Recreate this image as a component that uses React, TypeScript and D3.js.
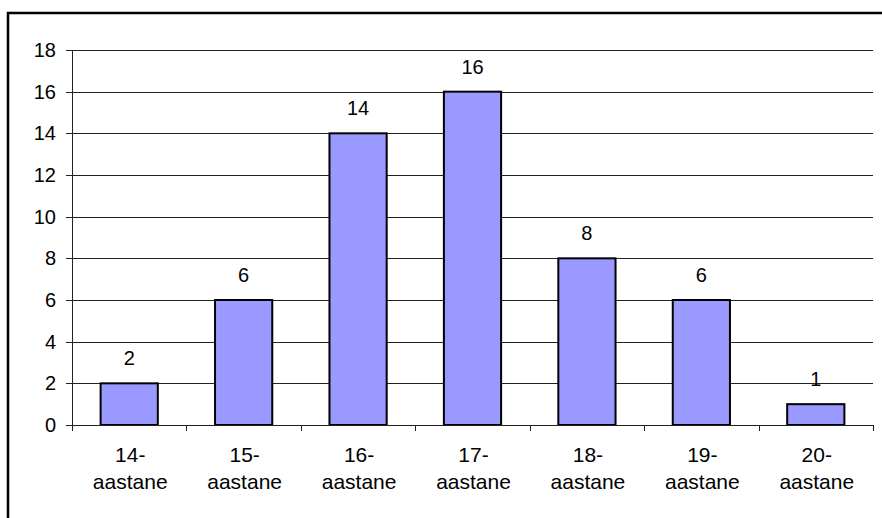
import React from "react";
import * as d3 from "d3";

const categories = ["14-", "15-", "16-", "17-", "18-", "19-", "20-"];
const categorySuffix = "aastane";
const values = [2, 6, 14, 16, 8, 6, 1];
const yTicks = [0, 2, 4, 6, 8, 10, 12, 14, 16, 18];

const W = 882;
const H = 518;
const plot = { left: 72, right: 873, top: 50, bottom: 425 };
const FONT = "Arial, 'Liberation Sans', sans-serif";
const FS = 20;
const FS_CAT = 21;

export default function App() {
  const x = d3
    .scaleBand<string>()
    .domain(categories)
    .range([plot.left, plot.right])
    .paddingInner(0.5)
    .paddingOuter(0.25);
  const band = d3.scaleBand<string>().domain(categories).range([plot.left, plot.right]);
  const y = d3.scaleLinear().domain([0, 18]).range([plot.bottom, plot.top]);
  const cr = (v: number) => Math.round(v) + 0.5;

  return (
    <svg
      width={W}
      height={H}
      style={{ position: "absolute", left: 0, top: 0, background: "#fff" }}
      fontFamily={FONT}
    >
      <rect x={8} y={13} width={W} height={H} fill="#fff" stroke="#000" strokeWidth={2.5} />
      {yTicks.map((t) => (
        <g key={t}>
          {t > 0 && (
            <line x1={plot.left} x2={plot.right} y1={cr(y(t))} y2={cr(y(t))} stroke="#222" strokeWidth={1} />
          )}
          <line x1={plot.left - 6} x2={plot.left} y1={cr(y(t))} y2={cr(y(t))} stroke="#222" strokeWidth={1} />
          <text x={56} y={y(t)} dy="0.35em" textAnchor="end" fontSize={FS} fill="#000">
            {t}
          </text>
        </g>
      ))}
      {categories.map((c, i) => (
        <g key={c}>
          <rect
            x={x(c)!}
            y={y(values[i])}
            width={x.bandwidth()}
            height={y(0) - y(values[i])}
            fill="#9999FF"
            stroke="#000"
            strokeWidth={2}
          />
          <text
            x={x(c)! + x.bandwidth() / 2}
            y={y(values[i]) - 18}
            textAnchor="middle"
            fontSize={FS}
            fill="#000"
          >
            {values[i]}
          </text>
          <text x={band(c)! + band.bandwidth() / 2 + 1} y={462} textAnchor="middle" fontSize={FS_CAT} fill="#000">
            {c}
          </text>
          <text x={band(c)! + band.bandwidth() / 2 + 1} y={489} textAnchor="middle" fontSize={FS_CAT} fill="#000">
            {categorySuffix}
          </text>
        </g>
      ))}
      {[...categories.map((c) => band(c)!), plot.right].map((bx, i) => (
        <line key={i} x1={cr(bx)} x2={cr(bx)} y1={plot.bottom} y2={plot.bottom + 6} stroke="#222" strokeWidth={1} />
      ))}
      <line x1={cr(plot.left)} x2={cr(plot.left)} y1={plot.top} y2={plot.bottom} stroke="#222" strokeWidth={1} />
      <line x1={plot.left} x2={plot.right} y1={cr(plot.bottom)} y2={cr(plot.bottom)} stroke="#222" strokeWidth={1} />
    </svg>
  );
}
